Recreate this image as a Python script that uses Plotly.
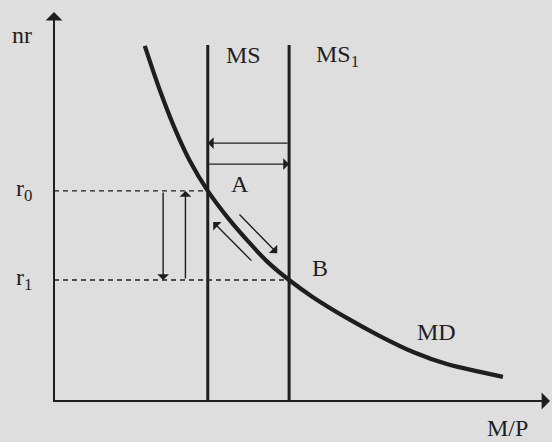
import plotly.graph_objects as go

# Money market: demand curve MD and two vertical supply lines MS, MS1
md_x = [1.83, 2.14, 2.44, 2.74, 3.10, 3.51, 3.91, 4.31, 4.74, 5.22, 5.91, 6.57, 7.24, 7.92, 8.59, 9.05]
md_y = [9.13, 7.97, 6.99, 6.17, 5.40, 4.70, 4.11, 3.57, 3.11, 2.67, 2.13, 1.67, 1.26, 0.95, 0.75, 0.62]
ms_x = 3.10
ms1_x = 4.74
supply_top = 9.15
r0 = 5.40
r1 = 3.11
shift_left_y = 6.63
shift_right_y = 6.09
rate_down_x = 2.20
rate_up_x = 2.65
slide_down = [(3.71, 4.83), (4.50, 3.80)]
slide_up = [(4.01, 3.57), (3.21, 4.60)]

INK = "#1e1e1e"
PAPER = "#dedede"
FONT = "Liberation Serif"

fig = go.Figure()

# dashed guides from the rate axis to the equilibria
fig.add_trace(go.Scatter(x=[0, ms_x], y=[r0, r0], mode="lines",
                         line=dict(color=INK, width=1.3, dash="5px,4px")))
fig.add_trace(go.Scatter(x=[0, ms1_x], y=[r1, r1], mode="lines",
                         line=dict(color=INK, width=1.3, dash="5px,4px")))

# supply lines
for sx in (ms_x, ms1_x):
    fig.add_trace(go.Scatter(x=[sx, sx], y=[0, supply_top], mode="lines",
                             line=dict(color=INK, width=3)))

# demand curve
fig.add_trace(go.Scatter(x=md_x, y=md_y, mode="lines",
                         line=dict(color=INK, width=4.2, shape="spline", smoothing=1.0)))

# axes
fig.add_trace(go.Scatter(x=[0, 0, 9.8], y=[9.8, 0, 0], mode="lines",
                         line=dict(color=INK, width=2)))


def arrow(x0, y0, x1, y1, width=1.4, size=1.4, head=1):
    fig.add_annotation(x=x1, y=y1, ax=x0, ay=y0, xref="x", yref="y",
                       axref="x", ayref="y", showarrow=True, text="",
                       arrowhead=head, arrowsize=size, arrowwidth=width,
                       arrowcolor=INK)


arrow(0, 9.5, 0, 10.0, width=2, size=1.4)
arrow(9.5, 0, 10.0, 0, width=2, size=1.4)
arrow(ms1_x, shift_left_y, ms_x, shift_left_y)
arrow(ms_x, shift_right_y, ms1_x, shift_right_y)
arrow(rate_down_x, r0, rate_down_x, r1)
arrow(rate_up_x, r1, rate_up_x, r0)
arrow(*slide_down[0], *slide_down[1])
arrow(*slide_up[0], *slide_up[1])

labels = [
    ("nr", -0.64, 9.41),
    ("MS", 3.83, 8.89),
    ("MS<sub>1</sub>", 5.71, 8.87),
    ("r<sub>0</sub>", -0.6, r0 + 0.02),
    ("r<sub>1</sub>", -0.6, r1 + 0.02),
    ("A", 3.75, 5.58),
    ("B", 5.36, 3.42),
    ("MD", 7.72, 1.77),
    ("M/P", 9.15, -0.70),
]
for text, lx, ly in labels:
    fig.add_annotation(x=lx, y=ly, xref="x", yref="y", text=text,
                       showarrow=False, font=dict(family=FONT, size=24, color=INK))

fig.update_layout(
    width=552, height=442,
    margin=dict(l=0, r=0, t=0, b=0),
    paper_bgcolor=PAPER, plot_bgcolor=PAPER,
    showlegend=False,
    xaxis=dict(range=[-54 / 49.6, 498 / 49.6], visible=False, fixedrange=True),
    yaxis=dict(range=[-41 / 38.9, 401 / 38.9], visible=False, fixedrange=True),
)
fig.update_traces(cliponaxis=False, hoverinfo="skip")

fig.write_html("out.html")
